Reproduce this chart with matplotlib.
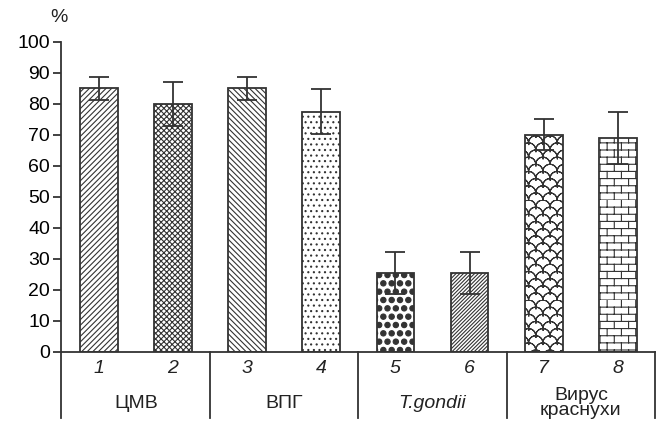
# bar chart with hatched bars, grouped labels underneath
import numpy as np
import matplotlib
matplotlib.use('Agg')
import matplotlib.pyplot as plt
import matplotlib.hatch as mhatch
from matplotlib.path import Path

plt.rcParams['font.family'] = ['Liberation Sans', 'DejaVu Sans']
plt.rcParams['hatch.linewidth'] = 0.8

bar_ids = ['1', '2', '3', '4', '5', '6', '7', '8']
values = [85, 80, 85, 77.5, 25.5, 25.5, 70, 69]
errors = [3.6, 7, 3.6, 7.3, 6.8, 6.8, 5, 8.3]
groups = ['ЦМВ', 'ВПГ', 'T.gondii', 'Вирус\nкраснухи']
group_italic = [False, False, True, False]
hatches = ['//////', 'xxxxxx', '\\' * 6, '...', '**', '/' * 9, 'oo', '++']

INK = '#333333'


# extra hatch patterns: bricks ('+'), fish scales ('o'), big black blobs ('*')
class Bricks(mhatch.HatchPatternBase):
    def __init__(self, hatch, density):
        self.rows = hatch.count('+') * 7
        self.cols = self.rows // 2
        self.num_vertices = self.rows * 2 + self.rows * self.cols * 2

    def set_vertices_and_codes(self, vertices, codes):
        k = 0
        for i in range(self.rows):
            y0 = i / self.rows
            y1 = (i + 1) / self.rows
            vertices[k] = (0, y0)
            vertices[k + 1] = (1, y0)
            k += 2
            for j in range(self.cols):
                x = (j + 0.5 * (i % 2)) / self.cols
                vertices[k] = (x, y0)
                vertices[k + 1] = (x, y1)
                k += 2
        codes[0::2] = Path.MOVETO
        codes[1::2] = Path.LINETO


class Scales(mhatch.HatchPatternBase):
    npts = 13

    def __init__(self, hatch, density):
        self.k = hatch.count('o') * 7 // 2
        self.rows = self.k * 2
        # each arc goes out and back so it has no area to fill
        self.per_arc = 2 * self.npts - 1
        self.num_vertices = self.rows * (self.k + 1) * self.per_arc

    def set_vertices_and_codes(self, vertices, codes):
        r = 0.5 / self.k
        t = np.linspace(np.pi, 0, self.npts)
        t = np.concatenate([t, t[-2::-1]])
        n = 0
        for i in range(self.rows):
            y0 = i / self.rows
            for j in range(self.k + 1):
                if i % 2 == 0:
                    cx = (j + 0.5) / self.k
                else:
                    cx = j / self.k
                sl = slice(n, n + self.per_arc)
                vertices[sl, 0] = cx + r * np.cos(t)
                vertices[sl, 1] = y0 + r * np.sin(t)
                codes[n] = Path.MOVETO
                codes[n + 1:n + self.per_arc] = Path.LINETO
                n += self.per_arc


class Blobs(mhatch.Circles):
    size = 0.32
    filled = True

    def __init__(self, hatch, density):
        self.num_rows = hatch.count('*') * density
        super().__init__(hatch, density)


mhatch._hatch_types = [mhatch.NorthEastHatch, mhatch.SouthEastHatch,
                       mhatch.SmallFilledCircles, Blobs, Bricks, Scales]

fig = plt.figure(figsize=(6.58, 4.22), dpi=100)
ax = fig.add_axes([0.0927, 0.1659, 0.9027, 0.7346])

x = np.arange(1, len(values) + 1)
bars = ax.bar(x, values, width=0.51, color='white', edgecolor=INK,
              linewidth=1.3, zorder=2)
for b, h in zip(bars, hatches):
    b.set_hatch(h)
ax.errorbar(x, values, yerr=errors, fmt='none', ecolor=INK, elinewidth=1.3,
            capsize=7, capthick=1.3, zorder=3)

ax.set_xlim(0.49, 8.5)
ax.set_ylim(0, 100)
ax.set_yticks(np.arange(0, 101, 10))
ax.tick_params(axis='y', direction='out', length=6, width=1.3, color=INK,
               labelsize=14, pad=2)
ax.set_xticks([])
for s in ['top', 'right']:
    ax.spines[s].set_visible(False)
for s in ['left', 'bottom']:
    ax.spines[s].set_linewidth(1.3)
    ax.spines[s].set_color(INK)

# labels under the axis
tr = ax.get_xaxis_transform()
for xi, lab in zip(x, bar_ids):
    ax.text(xi, -0.052, lab, transform=tr, ha='center', va='center',
            fontsize=14, style='italic', color='#222222')
for g, (name, it) in enumerate(zip(groups, group_italic)):
    ax.text(2 * g + 1.5, -0.165, name, transform=tr, ha='center', va='center',
            fontsize=14, style='italic' if it else 'normal',
            linespacing=0.9, color='#222222')
for xs in [0.49, 2.5, 4.5, 6.5, 8.5]:
    ax.plot([xs, xs], [0, -0.213], transform=tr, color=INK, lw=1.3,
            clip_on=False)

fig.text(59 / 658, 1 - 17 / 422, '%', ha='center', va='center',
         fontsize=14, color='#222222')

fig.savefig('out.png', dpi=100)
